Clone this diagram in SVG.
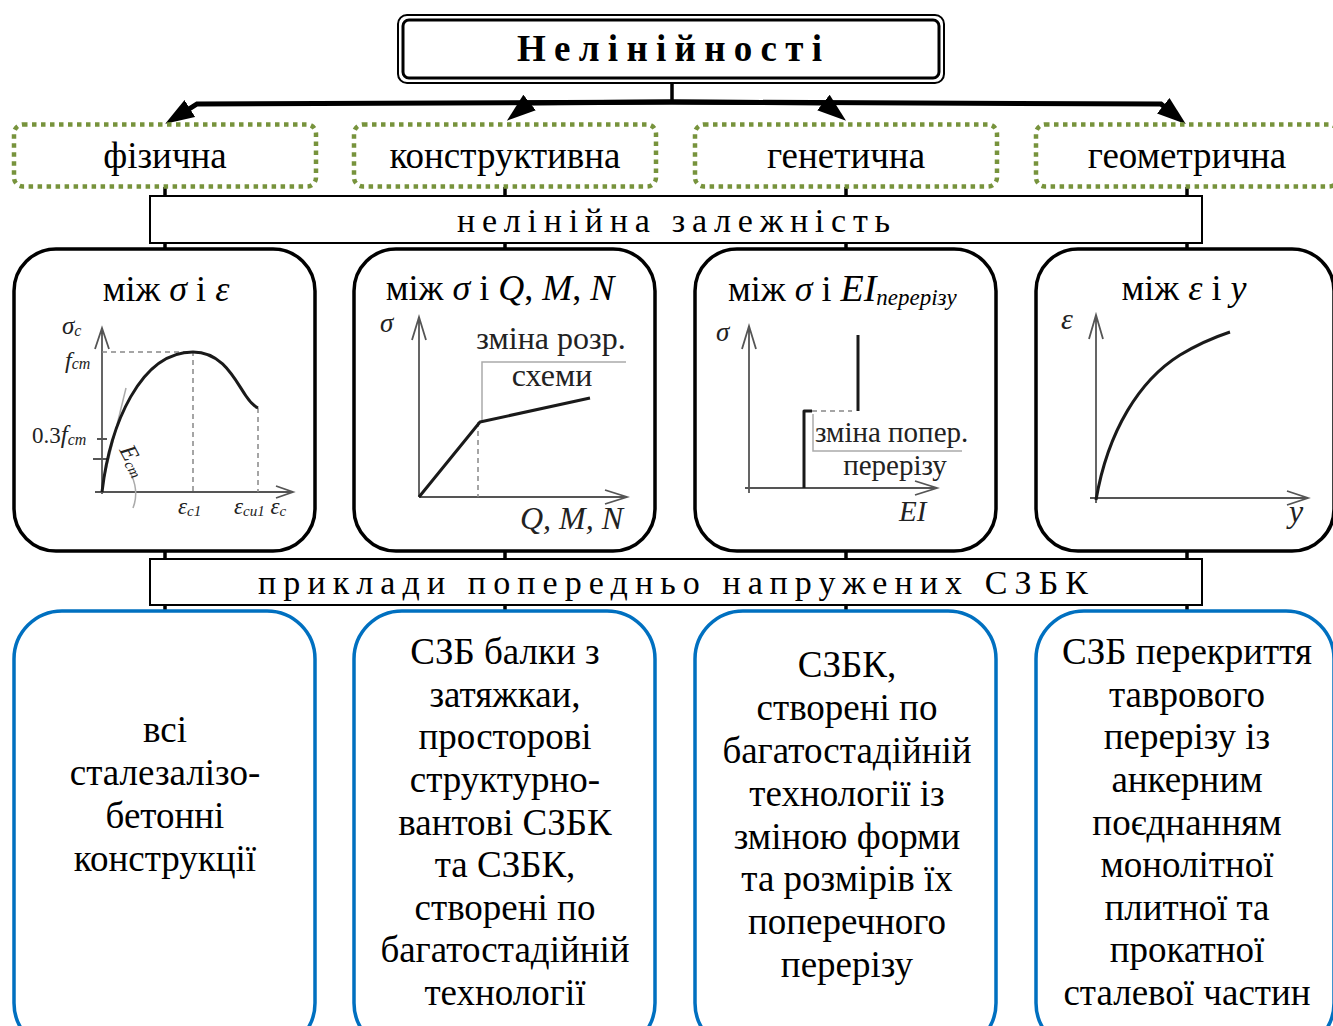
<svg xmlns="http://www.w3.org/2000/svg" width="1333" height="1026" viewBox="0 0 1333 1026">
<style>
.t{font-family:"Liberation Serif","Times New Roman",serif;fill:#000}
.c{text-anchor:middle}
.i{font-style:italic}
.g{fill:#222}
.green{fill:#fff;stroke:#77933C;stroke-width:4.5;stroke-dasharray:4.5 4.5}
.blk{fill:#fff;stroke:#000;stroke-width:3.5}
.blue{fill:#fff;stroke:#0070C0;stroke-width:3.5}
.band{fill:#fff;stroke:#000;stroke-width:2}
.axis{fill:none;stroke:#555;stroke-width:1.8}
.curve{fill:none;stroke:#1a1a1a;stroke-width:3;stroke-linejoin:round}
.dash{fill:none;stroke:#888;stroke-width:1.5;stroke-dasharray:5 4}
.lead{fill:none;stroke:#aaa;stroke-width:1.5}
.vc{stroke:#000;stroke-width:3.5}
.conn{fill:none;stroke:#000;stroke-width:5}
</style>
<defs>
<marker id="ah" markerUnits="userSpaceOnUse" markerWidth="32" markerHeight="22" refX="11" refY="10" orient="auto" viewBox="0 0 32 20">
<path d="M0,0 L29,10 L0,20 z" fill="#000"/>
</marker>
</defs>
<rect width="1333" height="1026" fill="#fff"/>

<g id="connectors">
<path class="vc" d="M672,83 V102"/>
<path class="conn" d="M672,102 L197,104 L180.5,114.3" marker-end="url(#ah)"/>
<path class="conn" d="M672,102 L529,103 L521,109.4" marker-end="url(#ah)"/>
<path class="conn" d="M672,102 L824,103 L832,109.4" marker-end="url(#ah)"/>
<path class="conn" d="M672,102 L1161,104 L1171.8,112.7" marker-end="url(#ah)"/>
<path class="vc" d="M165,187 V196 M505,187 V196 M846,187 V196 M1187,187 V196"/>
<path class="vc" d="M165,243 V249 M505,243 V249 M846,243 V249 M1187,243 V249"/>
<path class="vc" d="M165,551 V559 M505,551 V559 M846,551 V559 M1187,551 V559"/>
<path class="vc" d="M165,605 V611 M505,605 V611 M846,605 V611 M1187,605 V611"/>
</g>

<g id="title">
<rect x="398" y="15" width="546" height="68" rx="9" fill="#fff" stroke="#000" stroke-width="2"/>
<rect x="403" y="20" width="536" height="58" rx="6" fill="none" stroke="#000" stroke-width="3"/>
<text class="t" x="517" y="61" font-size="37" font-weight="bold" textLength="305" lengthAdjust="spacing">Нелінійності</text>
</g>

<g id="fizychna">
<rect class="green" x="14" y="124.5" width="302" height="62" rx="9"/>
<text class="t c" x="165" y="168" font-size="37">фізична</text>
</g>
<g id="konstruktyvna">
<rect class="green" x="354" y="124.5" width="302" height="62" rx="9"/>
<text class="t c" x="505" y="168" font-size="37">конструктивна</text>
</g>
<g id="genetychna">
<rect class="green" x="695" y="124.5" width="302" height="62" rx="9"/>
<text class="t c" x="846" y="168" font-size="37">генетична</text>
</g>
<g id="geometrychna">
<rect class="green" x="1036" y="124.5" width="302" height="62" rx="9"/>
<text class="t c" x="1187" y="168" font-size="37">геометрична</text>
</g>

<g id="nonlinear-dependence">
<rect class="band" x="150" y="196" width="1052" height="47"/>
<text class="t" x="457" y="232" font-size="34" textLength="433" lengthAdjust="spacing">нелінійна залежність</text>
</g>

<g id="chart-sigma-eps">
<rect class="blk" x="14" y="249" width="301" height="302" rx="42"/>
<text class="t c" x="166" y="301" font-size="36">між <tspan class="i">σ</tspan> і <tspan class="i">ε</tspan></text>
<path class="axis" d="M102,494 V329 M95,349 L102,328 L109,349 M95,492 H293 M276,486 L293,492 L276,498"/>
<path class="axis" d="M97,439 H107 M93,459 H107"/>
<path class="dash" d="M102,352 H193 V492 M258,408 V492"/>
<path class="lead" d="M104,478 L126,388"/>
<path class="lead" d="M129,470 Q140,490 133,508"/>
<path class="curve" d="M102,492 C110,425 140,352 193,352 C222,352 234,378 246,396 C250,402 254,406 258,408"/>
<text class="t i g" x="62" y="334" font-size="25">σ<tspan font-size="16" dy="2">c</tspan></text>
<text class="t i g" x="65" y="368" font-size="24">f<tspan font-size="16" dy="1">cm</tspan></text>
<text class="t g" x="32" y="443" font-size="23">0.3<tspan class="i" font-size="25">f</tspan><tspan class="i" font-size="16" dy="2">cm</tspan></text>
<text class="t i g" x="0" y="0" font-size="24" transform="translate(119,450) rotate(62)">E<tspan font-size="15" dy="2">cm</tspan></text>
<text class="t i g" x="178" y="514" font-size="23">ε<tspan font-size="15" dy="2">c1</tspan></text>
<text class="t i g" x="234" y="514" font-size="23">ε<tspan font-size="15" dy="2">cu1</tspan><tspan dy="-2"> ε</tspan><tspan font-size="15" dy="2">c</tspan></text>
</g>

<g id="chart-sigma-qmn">
<rect class="blk" x="354" y="249" width="301" height="302" rx="42"/>
<text class="t c" x="500" y="300" font-size="36">між <tspan class="i">σ</tspan> і <tspan class="i">Q</tspan>, <tspan class="i">M</tspan>, <tspan class="i">N</tspan></text>
<path class="axis" d="M419,497 V318 M412,340 L419,317 L426,340 M419,497 H627 M605,490 L627,497 L605,504"/>
<path class="dash" d="M478,422 V497"/>
<path class="lead" d="M482,420 V362 H626"/>
<path class="curve" d="M419,497 L480,422 L590,398"/>
<text class="t i g" x="380" y="332" font-size="27">σ</text>
<text class="t c g" x="551" y="349" font-size="32">зміна розр.</text>
<text class="t c g" x="552" y="386" font-size="32">схеми</text>
<text class="t i g" x="520" y="529" font-size="32">Q, M, N</text>
</g>

<g id="chart-sigma-ei">
<rect class="blk" x="695" y="249" width="301" height="302" rx="42"/>
<text class="t" x="728" y="301" font-size="36">між <tspan class="i">σ</tspan> і <tspan class="i" font-size="38">EI</tspan><tspan class="i" font-size="23" dy="4">перерізу</tspan></text>
<path class="axis" d="M749,493 V327 M742,349 L749,326 L756,349 M745,488 H937 M915,481 L937,488 L915,495"/>
<path class="dash" d="M812,411 H852"/>
<path class="lead" d="M813,414 V451 H962"/>
<path class="curve" d="M804,488 V411 H812 M858,411 V335"/>
<text class="t i g" x="716" y="341" font-size="27">σ</text>
<text class="t g" x="815" y="442" font-size="29">зміна попер.</text>
<text class="t c g" x="895" y="475" font-size="29">перерізу</text>
<text class="t i g" x="899" y="521" font-size="29">EI</text>
</g>

<g id="chart-eps-y">
<rect class="blk" x="1036" y="249" width="298" height="302" rx="42"/>
<text class="t c" x="1184" y="300" font-size="36">між <tspan class="i">ε</tspan> і <tspan class="i">y</tspan></text>
<path class="axis" d="M1096,503 V316 M1089,339 L1096,315 L1103,339 M1090,498 H1308 M1287,491 L1308,498 L1287,505"/>
<path class="curve" d="M1096,500 C1108,430 1140,380 1180,355 C1200,343 1215,337 1230,332"/>
<text class="t i g" x="1061" y="329" font-size="30">ε</text>
<text class="t i g" x="1289" y="522" font-size="32">y</text>
</g>

<g id="examples">
<rect class="band" x="150" y="559" width="1052" height="46"/>
<text class="t" x="258" y="594" font-size="34" textLength="830" lengthAdjust="spacing">приклади попередньо напружених СЗБК</text>
</g>

<g id="ex1">
<rect class="blue" x="14" y="611" width="301" height="440" rx="48"/>
<text class="t c" font-size="37"><tspan x="165" y="742">всі</tspan><tspan x="165" y="785">сталезалізо-</tspan><tspan x="165" y="828">бетонні</tspan><tspan x="165" y="871">конструкції</tspan></text>
</g>
<g id="ex2">
<rect class="blue" x="354" y="611" width="301" height="440" rx="48"/>
<text class="t c" font-size="37"><tspan x="505" y="664">СЗБ балки з</tspan><tspan x="505" y="707">затяжкаи,</tspan><tspan x="505" y="749">просторові</tspan><tspan x="505" y="792">структурно-</tspan><tspan x="505" y="835">вантові СЗБК</tspan><tspan x="505" y="877">та СЗБК,</tspan><tspan x="505" y="920">створені по</tspan><tspan x="505" y="962">багатостадійній</tspan><tspan x="505" y="1005">технології</tspan></text>
</g>
<g id="ex3">
<rect class="blue" x="695" y="611" width="301" height="440" rx="48"/>
<text class="t c" font-size="37"><tspan x="847" y="677">СЗБК,</tspan><tspan x="847" y="720">створені по</tspan><tspan x="847" y="763">багатостадійній</tspan><tspan x="847" y="806">технології із</tspan><tspan x="847" y="849">зміною форми</tspan><tspan x="847" y="891">та розмірів їх</tspan><tspan x="847" y="934">поперечного</tspan><tspan x="847" y="977">перерізу</tspan></text>
</g>
<g id="ex4">
<rect class="blue" x="1036" y="611" width="298" height="440" rx="48"/>
<text class="t c" font-size="37"><tspan x="1187" y="664">СЗБ перекриття</tspan><tspan x="1187" y="707">таврового</tspan><tspan x="1187" y="749">перерізу із</tspan><tspan x="1187" y="792">анкерним</tspan><tspan x="1187" y="835">поєднанням</tspan><tspan x="1187" y="877">монолітної</tspan><tspan x="1187" y="920">плитної та</tspan><tspan x="1187" y="962">прокатної</tspan><tspan x="1187" y="1005">сталевої частин</tspan></text>
</g>
</svg>
